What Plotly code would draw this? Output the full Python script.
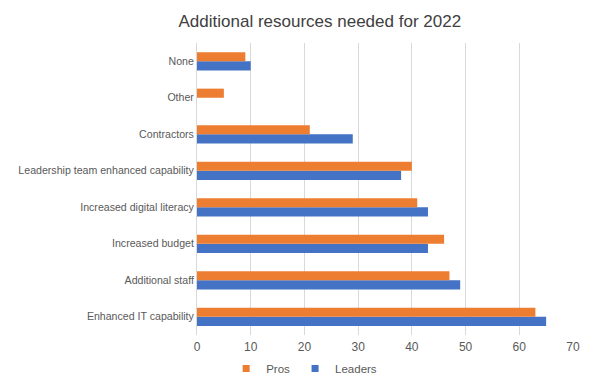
import plotly.graph_objects as go

categories = ["Enhanced IT capability", "Additional staff", "Increased budget",
              "Increased digital literacy", "Leadership team enhanced capability",
              "Contractors", "Other", "None"]
pros = [63, 47, 46, 41, 40, 21, 5, 9]
leaders = [65, 49, 43, 43, 38, 29, 0, 10]

PROS_C = "#ED7D31"
LEAD_C = "#4472C4"

fig = go.Figure()
fig.add_trace(go.Bar(y=categories, x=leaders, name="Leaders", orientation="h",
                     marker=dict(color=LEAD_C, line=dict(width=0)), showlegend=False))
fig.add_trace(go.Bar(y=categories, x=pros, name="Pros", orientation="h",
                     marker=dict(color=PROS_C, line=dict(width=0)), showlegend=False))
# legend entries with small square symbols
fig.add_trace(go.Scatter(x=[None], y=[None], mode="markers", name="Pros",
                         marker=dict(symbol="square", size=7, color=PROS_C)))
fig.add_trace(go.Scatter(x=[None], y=[None], mode="markers", name="Leaders",
                         marker=dict(symbol="square", size=7, color=LEAD_C)))

fig.update_layout(
    width=600, height=387,
    paper_bgcolor="white", plot_bgcolor="white",
    barmode="group", bargap=0.5, bargroupgap=0,
    margin=dict(l=197, r=27, t=43, b=52, autoexpand=False),
    font=dict(family="Liberation Sans, Arial, sans-serif", size=11, color="#595959"),
    title=dict(text="Additional resources needed for 2022", x=0.533, xanchor="center",
               y=0.945, yanchor="middle",
               font=dict(size=17, color="#404040")),
    legend=dict(orientation="h", x=0.285, xanchor="center", y=-0.115, yanchor="middle",
                font=dict(size=11.5, color="#595959"), itemwidth=30,
                entrywidth=0, tracegroupgap=0),
    showlegend=True,
)
fig.update_xaxes(range=[0, 70], dtick=10, showgrid=True, gridcolor="#D9D9D9",
                 zeroline=False, showline=False, ticks="", tickfont=dict(size=12),
                 ticklabelstandoff=3, automargin=False)
fig.update_yaxes(categoryorder="array", categoryarray=categories, showline=True,
                 linecolor="#D9D9D9", ticks="", ticklabelstandoff=0,
                 tickfont=dict(size=10.6), automargin=False)

fig.write_html("out.html", config={"displayModeBar": False},
               post_script="document.body.style.margin='0';")
